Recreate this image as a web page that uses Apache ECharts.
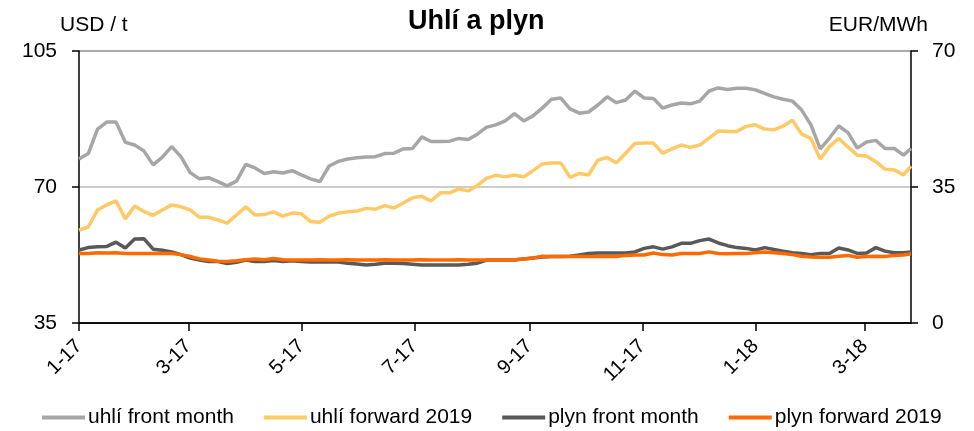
<!DOCTYPE html>
<html>
<head>
<meta charset="utf-8">
<script src="https://cdn.jsdelivr.net/npm/echarts@6/dist/echarts.min.js"></script>
<style>
  html, body { margin: 0; padding: 0; background: #fff; }
  #chart { width: 974px; height: 431px; }
</style>
</head>
<body>
<div id="chart"></div>
<script>
// sample dates (every 5 days)
var dates = [
  '2017-01-01','2017-01-06','2017-01-11','2017-01-16','2017-01-21','2017-01-26','2017-01-31',
  '2017-02-05','2017-02-10','2017-02-15','2017-02-20','2017-02-25',
  '2017-03-02','2017-03-07','2017-03-12','2017-03-17','2017-03-22','2017-03-27',
  '2017-04-01','2017-04-06','2017-04-11','2017-04-16','2017-04-21','2017-04-26',
  '2017-05-01','2017-05-06','2017-05-11','2017-05-16','2017-05-21','2017-05-26','2017-05-31',
  '2017-06-05','2017-06-10','2017-06-15','2017-06-20','2017-06-25','2017-06-30',
  '2017-07-05','2017-07-10','2017-07-15','2017-07-20','2017-07-25','2017-07-30',
  '2017-08-04','2017-08-09','2017-08-14','2017-08-19','2017-08-24','2017-08-29',
  '2017-09-03','2017-09-08','2017-09-13','2017-09-18','2017-09-23','2017-09-28',
  '2017-10-03','2017-10-08','2017-10-13','2017-10-18','2017-10-23','2017-10-28',
  '2017-11-02','2017-11-07','2017-11-12','2017-11-17','2017-11-22','2017-11-27',
  '2017-12-02','2017-12-07','2017-12-12','2017-12-17','2017-12-22','2017-12-27',
  '2018-01-01','2018-01-06','2018-01-11','2018-01-16','2018-01-21','2018-01-26','2018-01-31',
  '2018-02-05','2018-02-10','2018-02-15','2018-02-20','2018-02-25',
  '2018-03-02','2018-03-07','2018-03-12','2018-03-17','2018-03-22','2018-03-26'
];

// USD / t
var uhliFront = [
  77.2, 78.6, 84.9, 86.7, 86.7, 81.5, 80.8, 79.3, 75.7, 77.7,
  80.4, 77.8, 73.7, 72.1, 72.4, 71.4, 70.3, 71.5, 75.8, 74.9,
  73.5, 73.9, 73.6, 74.2, 73.1, 72.1, 71.4, 75.4, 76.6, 77.2,
  77.5, 77.7, 77.8, 78.6, 78.7, 79.8, 79.9, 82.9, 81.7, 81.7,
  81.8, 82.5, 82.2, 83.6, 85.4, 86.0, 87.0, 88.9, 87.0, 88.3,
  90.3, 92.6, 92.9, 90.1, 89.0, 89.3, 91.1, 93.2, 91.7, 92.4,
  94.7, 92.9, 92.8, 90.3, 91.1, 91.6, 91.4, 92.1, 94.7, 95.5,
  95.1, 95.4, 95.4, 95.0, 94.1, 93.2, 92.6, 92.1, 89.8, 86.0,
  79.8, 82.6, 85.7, 84.0, 80.0, 81.6, 82.0, 79.9, 79.9, 78.2,
  79.9
];
var uhliFwd = [
  58.9, 59.7, 64.1, 65.4, 66.4, 61.8, 65.1, 63.7, 62.7, 64.1,
  65.4, 64.9, 64.1, 62.2, 62.2, 61.5, 60.7, 62.8, 64.9, 62.8,
  62.9, 63.6, 62.5, 63.3, 63.1, 61.1, 60.9, 62.5, 63.3, 63.6,
  63.8, 64.5, 64.3, 65.2, 64.6, 65.9, 67.2, 67.6, 66.4, 68.5,
  68.5, 69.5, 69.0, 70.4, 72.3, 73.0, 72.6, 73.1, 72.6, 74.2,
  75.9, 76.2, 76.2, 72.5, 73.5, 73.1, 76.9, 77.6, 76.2, 78.7,
  81.2, 81.3, 81.3, 78.7, 79.8, 80.8, 80.2, 80.8, 82.6, 84.4,
  84.3, 84.3, 85.6, 86.0, 84.9, 84.7, 85.7, 87.2, 83.6, 82.5,
  77.2, 80.4, 82.5, 80.3, 78.2, 78.0, 76.5, 74.6, 74.4, 73.1,
  75.4
];
// EUR/MWh
var plynFront = [
  18.8, 19.4, 19.6, 19.7, 20.8, 19.3, 21.6, 21.7, 19.0, 18.7,
  18.3, 17.6, 16.7, 16.2, 15.8, 15.8, 15.3, 15.6, 16.2, 15.8,
  15.8, 16.1, 15.8, 16.0, 15.8, 15.7, 15.7, 15.7, 15.7, 15.4,
  15.2, 14.9, 15.1, 15.4, 15.4, 15.3, 15.1, 14.9, 14.9, 14.9,
  14.9, 14.9, 15.1, 15.4, 16.2, 16.2, 16.2, 16.2, 16.5, 16.7,
  17.0, 17.1, 17.1, 17.2, 17.5, 17.9, 18.0, 18.0, 18.0, 18.0,
  18.3, 19.2, 19.6, 19.0, 19.6, 20.5, 20.5, 21.2, 21.6, 20.6,
  19.9, 19.4, 19.2, 18.8, 19.4, 18.9, 18.5, 18.1, 17.9, 17.6,
  17.9, 17.9, 19.3, 18.8, 17.9, 18.0, 19.4, 18.5, 18.1, 18.1,
  18.3
];
var plynFwd = [
  17.9, 17.9, 18.1, 18.0, 18.1, 17.9, 17.9, 17.9, 17.9, 17.9,
  17.9, 17.6, 17.1, 16.5, 16.2, 15.9, 15.8, 16.0, 16.3, 16.5,
  16.3, 16.6, 16.3, 16.2, 16.2, 16.2, 16.3, 16.2, 16.2, 16.3,
  16.2, 16.2, 16.2, 16.3, 16.2, 16.2, 16.2, 16.3, 16.2, 16.2,
  16.2, 16.3, 16.2, 16.2, 16.2, 16.2, 16.2, 16.3, 16.5, 16.7,
  17.2, 17.1, 17.1, 17.1, 17.1, 17.1, 17.1, 17.1, 17.1, 17.4,
  17.5, 17.5, 18.0, 17.6, 17.5, 17.9, 17.9, 17.9, 18.3, 17.9,
  17.8, 17.9, 17.9, 18.1, 18.3, 18.1, 17.9, 17.6, 17.2, 17.0,
  16.9, 16.9, 17.2, 17.4, 16.9, 17.1, 17.2, 17.1, 17.4, 17.5,
  17.8
];

var tickDates = ['2017-01-01','2017-03-01','2017-05-01','2017-07-01','2017-09-01','2017-11-01','2018-01-01','2018-03-01'];
var tickLabels = ['1-17','3-17','5-17','7-17','9-17','11-17','1-18','3-18'];

var names = ['uhlí front month', 'uhlí forward 2019', 'plyn front month', 'plyn forward 2019'];
var colors = ['#a6a6a6', '#ffc966', '#595959', '#ff6a00'];

// daily category axis
var days = [];
for (var t = Date.UTC(2017, 0, 1); t <= Date.UTC(2018, 2, 26); t += 86400000) {
  days.push(new Date(t).toISOString().slice(0, 10));
}

function pairs(vals) {
  return dates.map(function (d, i) { return [days.indexOf(d), vals[i]]; });
}
function isTick(idx) {
  return tickDates.indexOf(days[idx]) >= 0;
}

var font = "'Liberation Sans', Arial, sans-serif";
var myChart = echarts.init(document.getElementById('chart'));

myChart.setOption({
  animation: false,
  backgroundColor: '#fff',
  textStyle: { fontFamily: font, color: '#000' },
  title: [
    { text: 'Uhlí a plyn', left: 408, top: 8, padding: 0,
      textStyle: { fontSize: 27, fontWeight: 'bold', color: '#000', fontFamily: font } },
    { text: 'USD / t', left: 60, top: 15, padding: 0,
      textStyle: { fontSize: 21, fontWeight: 'normal', color: '#000', fontFamily: font } },
    { text: 'EUR/MWh', right: 46, top: 15, padding: 0,
      textStyle: { fontSize: 21, fontWeight: 'normal', color: '#000', fontFamily: font } }
  ],
  legend: {
    data: names,
    left: 42,
    top: 407,
    itemWidth: 43,
    itemHeight: 4,
    itemGap: 30,
    icon: 'rect',
    padding: 0,
    textStyle: { fontSize: 21, color: '#000', fontFamily: font, padding: [0, 0, 0, -2] }
  },
  grid: { left: 79, right: 63, top: 51, bottom: 108 },
  xAxis: {
    type: 'category',
    data: days,
    boundaryGap: false,
    axisLine: { lineStyle: { color: '#000', width: 1.5 } },
    axisTick: {
      interval: function (idx) { return isTick(idx); },
      length: 8,
      lineStyle: { color: '#000', width: 1.5 }
    },
    axisLabel: {
      interval: function (idx) { return isTick(idx); },
      rotate: 45,
      margin: 20,
      fontSize: 20,
      color: '#000',
      fontFamily: font,
      formatter: function (v) { return tickLabels[tickDates.indexOf(v)]; }
    },
    splitLine: { show: false }
  },
  yAxis: [
    {
      type: 'value', min: 35, max: 105, interval: 35,
      axisLine: { show: true, lineStyle: { color: '#000', width: 1.5 } },
      axisTick: { show: true, length: 7, lineStyle: { color: '#000', width: 1.5 } },
      axisLabel: { fontSize: 21, color: '#000', margin: 22, fontFamily: font },
      splitLine: { show: true, lineStyle: { color: ['#000', '#bdbdbd', '#8c8c8c'], width: 1.5 } }
    },
    {
      type: 'value', min: 0, max: 70, interval: 35,
      axisLine: { show: true, lineStyle: { color: '#000', width: 1.5 } },
      axisTick: { show: true, length: 7, lineStyle: { color: '#000', width: 1.5 } },
      axisLabel: { fontSize: 21, color: '#000', margin: 21, fontFamily: font },
      splitLine: { show: false }
    }
  ],
  series: [
    { name: names[0], type: 'line', yAxisIndex: 0, data: pairs(uhliFront) },
    { name: names[1], type: 'line', yAxisIndex: 0, data: pairs(uhliFwd) },
    { name: names[2], type: 'line', yAxisIndex: 1, data: pairs(plynFront) },
    { name: names[3], type: 'line', yAxisIndex: 1, data: pairs(plynFwd) }
  ].map(function (s, i) {
    s.showSymbol = false;
    s.symbol = 'none';
    s.color = colors[i];
    s.lineStyle = { color: colors[i], width: 3.5 };
    return s;
  })
});
</script>
</body>
</html>
